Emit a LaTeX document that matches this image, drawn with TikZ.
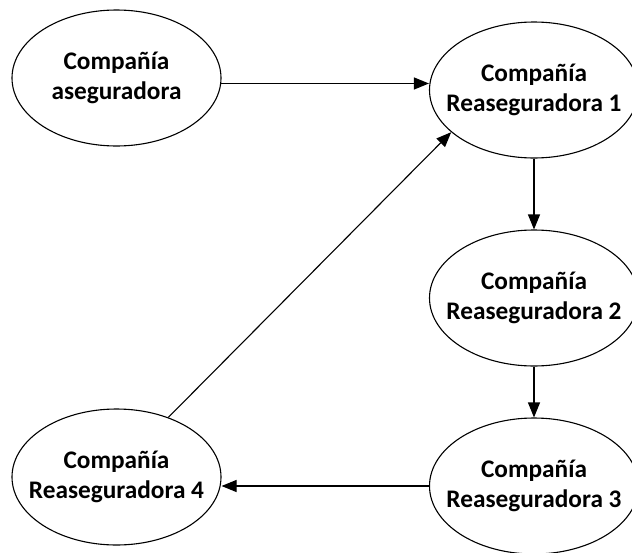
\documentclass[tikz,border=0pt]{standalone}
\usepackage{fontspec}
\setmainfont{Carlito}
\usetikzlibrary{shapes.geometric,arrows.meta}
\begin{document}
\begin{tikzpicture}[x=1pt,y=-1pt,
  ent/.style={ellipse,draw,line width=1.1pt,minimum width=209pt,minimum height=136pt,inner sep=0pt,
    label={[align=center,font=\fontsize{25.3}{30}\selectfont\bfseries,inner sep=0pt]center:#1}},
  flow/.style={line width=1.1pt,-{Triangle[length=15pt,width=12pt]}}]
\useasboundingbox (0,0) rectangle (632,552);
\node[ent={Compañía\\aseguradora}] (e0) at (116.5,78) {};
\node[ent={Compañía\\Reaseguradora 1}] (e1) at (534,90) {};
\node[ent={Compañía\\Reaseguradora 2}] (e2) at (534,298) {};
\node[ent={Compañía\\Reaseguradora 3}] (e3) at (534,486) {};
\node[ent={Compañía\\Reaseguradora 4}] (e4) at (116.5,477) {};
\draw[flow] (e0.-3) -- (e0.-3 -| e1.west);
\draw[flow] (e1.south) -- (e2.north);
\draw[flow] (e2.south) -- (e3.north);
\draw[flow] (e3.west) -- (e3.west -| e4.east);
\draw[flow] (e4.49.6) -- (e1.207.4);
\end{tikzpicture}
\end{document}
